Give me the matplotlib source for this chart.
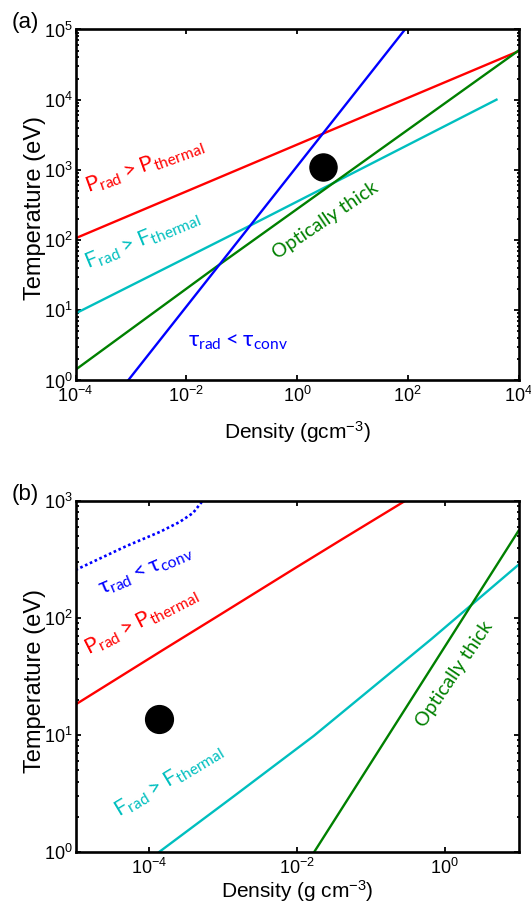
import numpy as np
import matplotlib
matplotlib.use("Agg")
import matplotlib.pyplot as plt
from matplotlib.ticker import FuncFormatter, LogLocator, NullLocator, NullFormatter

plt.rcParams['font.family'] = ['Liberation Sans', 'DejaVu Sans']
plt.rcParams['mathtext.default'] = 'regular'

# ---- panel (a): density (g/cm3) vs temperature (eV) ----
a_prad_rho = [1e-4, 3.0, 1e4]
a_prad_T = [106, 3300, 4.9e4]
a_frad_rho = [1e-4, 0.145, 4e3]
a_frad_T = [9.0, 162, 1.0e4]
a_thick_rho = [1e-4, 0.0355, 1e4]
a_thick_T = [1.42, 42, 5.0e4]
a_tau_rho = [8.9e-4, 89]
a_tau_T = [1.0, 1.0e5]
a_point = (3.0, 1087)
a_xticks = [1e-4, 1e-2, 1e0, 1e2, 1e4]
a_yticks = [1e0, 1e1, 1e2, 1e3, 1e4, 1e5]

# ---- panel (b) ----
b_tau_rho = [1e-5, 1.7e-5, 4.9e-5, 1.38e-4, 2.57e-4, 3.9e-4, 5.25e-4]
b_tau_T = [257, 301, 412, 543, 661, 789, 1000]
b_prad_rho = [1e-5, 1.51e-4, 8.1e-4, 1e-2, 4.2e-2, 0.29]
b_prad_T = [18.2, 53, 102, 273, 476, 1000]
b_frad_rho = [1.36e-4, 1.4e-3, 1.68e-2, 0.66, 10]
b_frad_T = [1.0, 3.0, 9.8, 66, 285]
b_thick_rho = [0.0171, 10]
b_thick_T = [1.0, 556]
b_point = (1.36e-4, 13.6)
b_xticks = [1e-4, 1e-2, 1e0]
b_yticks = [1e0, 1e1, 1e2, 1e3]

RED = (1, 0, 0)
CYAN = (0, 0.75, 0.75)
GREEN = (0, 0.5, 0)
BLUE = (0, 0, 1)
ANN_FONT = ['Lato', 'DejaVu Sans']

def pow10(v, pos):
    return r'$\mathregular{10^{%d}}$' % int(round(np.log10(v)))

def style_axes(ax, xlim, ylim, xticks, yticks):
    ax.set_xscale('log')
    ax.set_yscale('log')
    ax.set_xlim(*xlim)
    ax.set_ylim(*ylim)
    ax.set_xticks(xticks)
    ax.set_yticks(yticks)
    ax.xaxis.set_minor_locator(NullLocator())
    ax.yaxis.set_minor_locator(LogLocator(base=10, subs=np.arange(2, 10)))
    ax.yaxis.set_minor_formatter(NullFormatter())
    ax.xaxis.set_major_formatter(FuncFormatter(pow10))
    ax.yaxis.set_major_formatter(FuncFormatter(pow10))
    ax.tick_params(which='both', direction='in', top=True, right=True, width=1.3)
    ax.tick_params(which='major', length=3.8)
    ax.tick_params(which='minor', length=1.8)
    ax.tick_params(axis='x', labelsize=13, pad=4)
    ax.tick_params(axis='y', labelsize=13, pad=2)
    for s in ax.spines.values():
        s.set_linewidth(1.9)

fig = plt.figure(figsize=(5.31, 9.15), dpi=100)
ax1 = fig.add_axes([0.1422, 0.5842, 0.8343, 0.3836])
ax2 = fig.add_axes([0.1422, 0.0689, 0.8343, 0.3836])

# panel (a)
lw = 1.7
ax1.plot(a_prad_rho, a_prad_T, color=RED, lw=lw)
ax1.plot(a_frad_rho, a_frad_T, color=CYAN, lw=lw)
ax1.plot(a_thick_rho, a_thick_T, color=GREEN, lw=lw)
ax1.plot(a_tau_rho, a_tau_T, color=BLUE, lw=lw)
ax1.plot(*a_point, 'o', color='k', ms=19.5)
style_axes(ax1, (1e-4, 1e4), (1e0, 1e5), a_xticks, a_yticks)
ax1.set_xlabel(r'Density (gcm$^{-3}$)', fontsize=15)
ax1.set_ylabel('Temperature (eV)', fontsize=17)
ax1.xaxis.set_label_coords(0.5, -0.11)
ax1.yaxis.set_label_coords(-0.066, 0.49)

ax1.text(1.66e-4, 462, r'$\mathregular{P_{rad}>P_{thermal}}$', color=RED,
         fontsize=16, family=ANN_FONT, rotation=20, rotation_mode='anchor')
ax1.text(1.66e-4, 38, r'$\mathregular{F_{rad}>F_{thermal}}$', color=CYAN,
         fontsize=16, family=ANN_FONT, rotation=22.5, rotation_mode='anchor')
ax1.text(0.45, 53, 'Optically thick', color=GREEN,
         fontsize=14, family=ANN_FONT, rotation=34, rotation_mode='anchor')
ax1.text(0.0107, 3.06, r'$\mathregular{τ_{rad}<τ_{conv}}$', color=BLUE,
         fontsize=16, family=ANN_FONT)

# panel (b)
ax2.plot(b_tau_rho, b_tau_T, color=BLUE, lw=1.9, linestyle=(0, (1, 1.0)))
ax2.plot(b_prad_rho, b_prad_T, color=RED, lw=lw)
ax2.plot(b_frad_rho, b_frad_T, color=CYAN, lw=lw)
ax2.plot(b_thick_rho, b_thick_T, color=GREEN, lw=lw)
ax2.plot(*b_point, 'o', color='k', ms=20)
style_axes(ax2, (1e-5, 1e1), (1e0, 1e3), b_xticks, b_yticks)
ax2.set_xlabel(r'Density (g cm$^{-3}$)', fontsize=15)
ax2.set_ylabel('Temperature (eV)', fontsize=17)
ax2.xaxis.set_label_coords(0.5, -0.074)
ax2.yaxis.set_label_coords(-0.066, 0.487)

ax2.text(2.3e-5, 156, r'$\mathregular{τ_{rad}<τ_{conv}}$', color=BLUE,
         fontsize=16, family=ANN_FONT, rotation=23, rotation_mode='anchor')
ax2.text(1.5e-5, 48, r'$\mathregular{P_{rad}>P_{thermal}}$', color=RED,
         fontsize=16, family=ANN_FONT, rotation=27, rotation_mode='anchor')
ax2.text(3.9e-5, 1.98, r'$\mathregular{F_{rad}>F_{thermal}}$', color=CYAN,
         fontsize=16, family=ANN_FONT, rotation=31, rotation_mode='anchor')
ax2.text(0.53, 11.5, 'Optically thick', color=GREEN,
         fontsize=14, family=ANN_FONT, rotation=56, rotation_mode='anchor')

fig.text(0.022, 0.9694, '(a)', fontsize=16)
fig.text(0.022, 0.4536, '(b)', fontsize=16)

fig.savefig('out.png', dpi=100)
